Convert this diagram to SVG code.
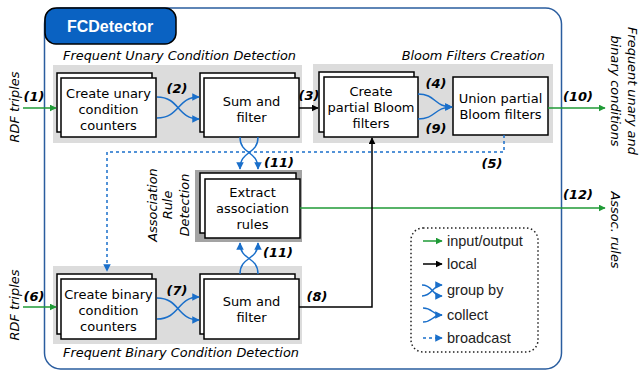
<svg xmlns="http://www.w3.org/2000/svg" width="640" height="371" viewBox="0 0 640 371">
<defs>
<marker id="ag" viewBox="0 0 10 10" refX="9" refY="5" markerWidth="7" markerHeight="7" markerUnits="userSpaceOnUse" orient="auto"><path d="M0,0 L10,5 L0,10 z" fill="#1f9a36"/></marker>
<marker id="ak" viewBox="0 0 10 10" refX="9" refY="5" markerWidth="7" markerHeight="7" markerUnits="userSpaceOnUse" orient="auto"><path d="M0,0 L10,5 L0,10 z" fill="#000"/></marker>
<marker id="ab" viewBox="0 0 10 10" refX="9" refY="5" markerWidth="7.5" markerHeight="7.5" markerUnits="userSpaceOnUse" orient="auto"><path d="M0,0 L10,5 L0,10 z" fill="#1a6fca"/></marker>
<style>
.box{fill:#fff;stroke:#000;stroke-width:1.5}
.band{fill:#dcdcdc}
.t{font-family:"DejaVu Sans",Verdana,sans-serif;font-size:13px;text-anchor:middle;fill:#000}
.ti{font-family:"DejaVu Sans",Verdana,sans-serif;font-size:12.9px;font-style:italic;fill:#000}
.lb{font-family:"DejaVu Sans",Verdana,sans-serif;font-size:13px;font-style:italic;font-weight:bold;text-anchor:middle;fill:#000}
.lg{font-family:"Liberation Sans",Arial,sans-serif;font-size:14.5px;fill:#222}
.g{fill:none;stroke:#1f9a36;stroke-width:1.5}
.k{fill:none;stroke:#000;stroke-width:1.5}
.b{fill:none;stroke:#1a6fca;stroke-width:1.5}
.bd{fill:none;stroke:#1a6fca;stroke-width:1.5;stroke-dasharray:3,3}
</style>
</defs>

<g id="container">
<rect x="44.5" y="8" width="517" height="361" rx="16" fill="#fff" stroke="#2a5d9f" stroke-width="1.5"/>
<rect x="45" y="8" width="131" height="36" rx="11" fill="#0a62c2" stroke="#000" stroke-width="1.5"/>
<text x="110" y="32" font-family="Liberation Sans,Arial,sans-serif" font-size="16" font-weight="bold" fill="#fff" text-anchor="middle">FCDetector</text>
</g>

<g id="bands">
<rect class="band" x="53" y="65" width="249" height="78"/>
<rect class="band" x="313" y="64" width="240" height="79"/>
<rect class="band" x="53" y="266" width="249" height="78"/>
<rect x="195" y="170" width="107" height="72" fill="#a3a3a3"/>
<text class="ti" x="63" y="60">Frequent Unary Condition Detection</text>
<text class="ti" x="545" y="60" text-anchor="end">Bloom Filters Creation</text>
<text class="ti" x="63" y="357">Frequent Binary Condition Detection</text>
<text class="ti" transform="translate(157,205) rotate(-90)" text-anchor="middle">Association</text>
<text class="ti" transform="translate(172,205) rotate(-90)" text-anchor="middle">Rule</text>
<text class="ti" transform="translate(189,205) rotate(-90)" text-anchor="middle">Detection</text>
</g>

<g id="n-unary">
<rect class="box" x="57" y="73" width="95" height="59"/>
<rect class="box" x="61" y="78" width="95" height="59"/>
<text class="t" x="108.5" y="98">Create unary</text>
<text class="t" x="108.5" y="114">condition</text>
<text class="t" x="108.5" y="130">counters</text>
</g>

<g id="n-sum1">
<rect class="box" x="200" y="73" width="95" height="59"/>
<rect class="box" x="204" y="78" width="95" height="59"/>
<text class="t" x="251.5" y="106">Sum and</text>
<text class="t" x="251.5" y="122">filter</text>
</g>

<g id="n-partial">
<rect class="box" x="319" y="72" width="95" height="60"/>
<rect class="box" x="324" y="77" width="94" height="60"/>
<text class="t" x="371" y="96">Create</text>
<text class="t" x="371" y="112">partial Bloom</text>
<text class="t" x="371" y="128">filters</text>
</g>

<g id="n-union">
<rect class="box" x="453" y="77" width="95" height="58"/>
<text class="t" x="500.5" y="103">Union partial</text>
<text class="t" x="500.5" y="119">Bloom filters</text>
</g>

<g id="n-extract">
<rect class="box" x="200" y="173" width="96" height="60"/>
<rect class="box" x="205" y="179" width="95" height="59"/>
<text class="t" x="252.5" y="197">Extract</text>
<text class="t" x="252.5" y="213">association</text>
<text class="t" x="252.5" y="229">rules</text>
</g>

<g id="n-binary">
<rect class="box" x="57" y="274" width="95" height="60"/>
<rect class="box" x="61" y="279" width="95" height="60"/>
<text class="t" x="108.5" y="299">Create binary</text>
<text class="t" x="108.5" y="315">condition</text>
<text class="t" x="108.5" y="331">counters</text>
</g>

<g id="n-sum2">
<rect class="box" x="200" y="274" width="95" height="60"/>
<rect class="box" x="204" y="279" width="95" height="60"/>
<text class="t" x="251.5" y="306">Sum and</text>
<text class="t" x="251.5" y="322">filter</text>
</g>

<g id="connectors">
<path class="g" d="M23,108 H56" marker-end="url(#ag)"/>
<path class="g" d="M23,307 H56" marker-end="url(#ag)"/>
<path class="g" d="M548,108 H605" marker-end="url(#ag)"/>
<path class="g" d="M300,208 H605" marker-end="url(#ag)"/>
<path class="k" d="M299,108 H318" marker-end="url(#ak)"/>
<path class="k" d="M299,307 H372 V138" marker-end="url(#ak)"/>
<path class="b" d="M157,97 C180,97 177,119 199,119" marker-end="url(#ab)"/>
<path class="b" d="M157,118 C180,118 177,97 199,97" marker-end="url(#ab)"/>
<path class="b" d="M157,298 C180,298 177,320 199,320" marker-end="url(#ab)"/>
<path class="b" d="M157,319 C180,319 177,297 199,297" marker-end="url(#ab)"/>
<path class="b" d="M240,137 C240,155 258,150 258,169" marker-end="url(#ab)"/>
<path class="b" d="M258,137 C258,155 240,150 240,169" marker-end="url(#ab)"/>
<path class="b" d="M240,274 C240,256 258,261 258,243" marker-end="url(#ab)"/>
<path class="b" d="M258,274 C258,256 240,261 240,243" marker-end="url(#ab)"/>
<path class="b" d="M418,94 C436,94 434,107 452,107" marker-end="url(#ab)"/>
<path class="b" d="M418,119 C436,119 434,107 452,107" marker-end="url(#ab)"/>
<path class="bd" d="M504,135 V152 H107 V271" marker-end="url(#ab)"/>
<text class="lb" x="34" y="101">(1)</text>
<text class="lb" x="177" y="93">(2)</text>
<text class="lb" x="309" y="100">(3)</text>
<text class="lb" x="436" y="88">(4)</text>
<text class="lb" x="436" y="133">(9)</text>
<text class="lb" x="578" y="101">(10)</text>
<text class="lb" x="492" y="168">(5)</text>
<text class="lb" x="279" y="167">(11)</text>
<text class="lb" x="578" y="199">(12)</text>
<text class="lb" x="278" y="257">(11)</text>
<text class="lb" x="177" y="295">(7)</text>
<text class="lb" x="34" y="301">(6)</text>
<text class="lb" x="317" y="301">(8)</text>
</g>

<g id="io-labels">
<text class="ti" transform="translate(19,107) rotate(-90)" text-anchor="middle" font-size="13">RDF triples</text>
<text class="ti" transform="translate(19,305) rotate(-90)" text-anchor="middle" font-size="13">RDF triples</text>
<text class="ti" transform="translate(628,91) rotate(90)" text-anchor="middle" font-size="13">Frequent unary and</text>
<text class="ti" transform="translate(611,91) rotate(90)" text-anchor="middle" font-size="13">binary conditions</text>
<text class="ti" transform="translate(611,230) rotate(90)" text-anchor="middle" font-size="13">Assoc. rules</text>
</g>

<g id="legend">
<rect x="411" y="228" width="127" height="124" rx="12" fill="none" stroke="#222" stroke-width="1.5" stroke-dasharray="1.5,2.5"/>
<path class="g" d="M423,241 H442" marker-end="url(#ag)"/>
<text class="lg" x="447" y="246">input/output</text>
<path class="k" d="M423,264 H442" marker-end="url(#ak)"/>
<text class="lg" x="447" y="269">local</text>
<path class="b" d="M422,285 C433,285 432,296 442,296" marker-end="url(#ab)"/>
<path class="b" d="M422,296 C433,296 432,285 442,285" marker-end="url(#ab)"/>
<text class="lg" x="447" y="295">group by</text>
<path class="b" d="M423,308 C433,308 432,315 442,315" marker-end="url(#ab)"/>
<path class="b" d="M423,322 C433,322 432,315 442,315"/>
<text class="lg" x="447" y="320">collect</text>
<path class="bd" d="M423,338 H442" marker-end="url(#ab)"/>
<text class="lg" x="447" y="343">broadcast</text>
</g>
</svg>
